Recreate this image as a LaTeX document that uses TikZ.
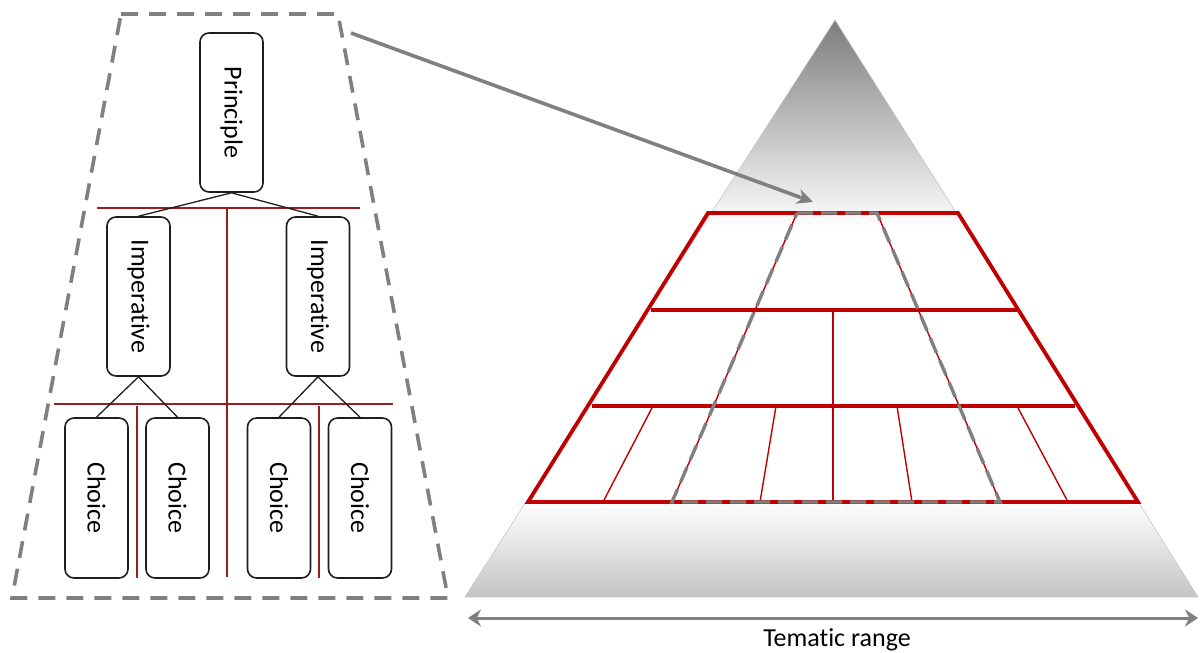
\documentclass[tikz,border=0pt]{standalone}
\usepackage{fontspec}
\setmainfont{Carlito}[Ligatures={NoCommon}]
\usetikzlibrary{arrows.meta}

\definecolor{framegray}{RGB}{128,128,128}
\definecolor{treered}{RGB}{150,30,35}
\definecolor{pyrred}{RGB}{192,0,0}
\definecolor{boxline}{RGB}{30,30,30}
\definecolor{shbot}{RGB}{196,196,196}
\definecolor{shlight}{RGB}{246,246,246}
\definecolor{shtop}{RGB}{125,125,125}

% vertical fade of the pyramid: grey apex, white middle band, grey base
\pgfdeclareverticalshading{pyrshade}{100bp}{%
  color(0bp)=(shbot); color(25bp)=(shbot); color(32bp)=(shlight);
  color(34bp)=(white); color(57bp)=(white); color(75bp)=(shtop); color(100bp)=(shtop)}

% keep "t" and "i" as separate glyphs
\newcommand\tsep{t\kern0pt i}

\begin{document}
\begin{tikzpicture}[x=1pt,y=-1pt,
  font=\fontsize{26}{30}\selectfont,
  treebox/.style={draw=boxline, line width=1.6pt, rounded corners=9pt, fill=white,
    minimum width=63pt, inner sep=0pt},
  link/.style={draw=boxline, line width=1.3pt},
  sepline/.style={draw=treered, line width=1.4pt},
  zoomframe/.style={draw=framegray, line width=3.6pt, dash pattern=on 17pt off 11pt},
  gridthick/.style={draw=pyrred, line width=3.8pt},
  gridthin/.style={draw=pyrred, line width=1.4pt},
  zoomdash/.style={draw=framegray, line width=3.4pt, dash pattern=on 16pt off 8pt},
  pointer/.style={draw=framegray, line width=3.6pt, -{Stealth[length=16pt,width=15pt]}},
  rangearrow/.style={draw=framegray, line width=3pt,
    {Stealth[length=13pt,width=17pt]}-{Stealth[length=13pt,width=17pt]}}]

\useasboundingbox (0,0) rectangle (1200,653);

% ---------- decision tree (left) ----------
\draw[zoomframe] (121,14) -- (338,14) -- (448,598) -- (12,598) -- cycle;

\coordinate (h1l) at (97,208);  \coordinate (h1r) at (360,208);
\coordinate (v1t) at (227,208); \coordinate (v1b) at (227,577);
\coordinate (h2l) at (54,404);  \coordinate (h2r) at (393,404);
\coordinate (v2t) at (137,406); \coordinate (v2b) at (137,578);
\coordinate (v3t) at (319,406); \coordinate (v3b) at (319,578);
\draw[sepline] (h1l) -- (h1r);
\draw[sepline] (v1t) -- (v1b);
\draw[sepline] (h2l) -- (h2r);
\draw[sepline] (v2t) -- (v2b);
\draw[sepline] (v3t) -- (v3b);

\node[treebox, minimum height=159pt] (pr) at (231.5,112.5) {\rotatebox{-90}{Principle}};
\node[treebox, minimum height=159pt] (iml) at (138.5,296.5) {\rotatebox{-90}{Impera\tsep ve}};
\node[treebox, minimum height=159pt] (imr) at (318,296.5) {\rotatebox{-90}{Impera\tsep ve}};
\node[treebox, minimum height=160pt] (c1) at (96.5,498) {\rotatebox{-90}{Choice}};
\node[treebox, minimum height=160pt] (c2) at (177.5,498) {\rotatebox{-90}{Choice}};
\node[treebox, minimum height=160pt] (c3) at (279,498) {\rotatebox{-90}{Choice}};
\node[treebox, minimum height=160pt] (c4) at (360,498) {\rotatebox{-90}{Choice}};

\draw[link] (pr.south) -- (iml.north);
\draw[link] (pr.south) -- (imr.north);
\draw[link] (iml.south) -- (c1.north);
\draw[link] (iml.south) -- (c2.north);
\draw[link] (imr.south) -- (c3.north);
\draw[link] (imr.south) -- (c4.north);

% ---------- pyramid (right) ----------
\shade[shading=pyrshade] (835,20) -- (1198,597) -- (465,597) -- cycle;
\draw[gray!45, line width=0.6pt] (835,20) -- (1198,597) -- (465,597) -- cycle;

% thin cell dividers
\draw[gridthin] (833,310) -- (833,502);
\draw[gridthin] (797,213) -- (672,502);
\draw[gridthin] (877,213) -- (1000,502);
\draw[gridthin] (653,406) -- (603,502);
\draw[gridthin] (776,406) -- (760,502);
\draw[gridthin] (897,406) -- (912,502);
\draw[gridthin] (1017,406) -- (1068,502);

% outline and level lines
\draw[gridthick] (708,213) -- (958,213) -- (1138,502) -- (528,502) -- cycle;
\draw[gridthick] (651,310) -- (1017,310);
\draw[gridthick] (592,406) -- (1075,406);

% highlighted slice
\draw[zoomdash] (797,213) -- (877,213) -- (1000,502) -- (672,502) -- cycle;

% pointer from the tree to the slice
\coordinate (ptrfrom) at (351,33);
\coordinate (ptrto) at (813,202);
\draw[pointer] (ptrfrom) -- (ptrto);

% range axis
\coordinate (rangel) at (468,618);
\coordinate (ranger) at (1198,618);
\draw[rangearrow] (rangel) -- (ranger);
\node[anchor=base, inner sep=0pt] (rangelabel) at (837,646) {Tema\tsep c range};

\end{tikzpicture}
\end{document}
